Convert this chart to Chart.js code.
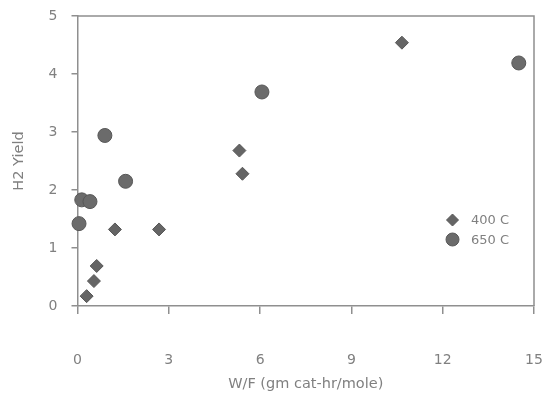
<!DOCTYPE html>
<html>
<head>
<meta charset="utf-8">
<script src="https://cdn.jsdelivr.net/npm/chart.js@4"></script>
<style>
  html, body { margin: 0; padding: 0; background: #fff; }
  #wrap { position: relative; width: 542px; height: 393px; }
</style>
</head>
<body>
<div id="wrap"><canvas id="c"></canvas></div>
<script>
// W/F (gm cat-hr/mole) vs H2 yield
const wf400 = [0.30, 0.54, 0.63, 1.23, 2.68, 5.32, 5.42, 10.66];
const h2400 = [0.17, 0.43, 0.69, 1.32, 1.32, 2.68, 2.28, 4.54];
const wf650 = [0.05, 0.14, 0.41, 0.90, 1.58, 6.06, 14.5];
const h2650 = [1.42, 1.83, 1.80, 2.94, 2.15, 3.69, 4.19];
const seriesNames = ['400 C', '650 C'];

const axisCol = '#8f8f8f';
const textCol = '#808080';
const font = 'DejaVu Sans';

const pts = (xs, ys) => xs.map((x, i) => ({ x, y: ys[i] }));

// box round the plot + legend inside it, like the Excel original
const frame = {
  id: 'frame',
  afterDatasetsDraw(chart) {
    const { ctx, chartArea: a } = chart;
    ctx.save();
    ctx.strokeStyle = axisCol;
    ctx.lineWidth = 1.5;
    ctx.beginPath();
    ctx.moveTo(a.left, a.top);
    ctx.lineTo(a.right, a.top);
    ctx.lineTo(a.right, a.bottom);
    ctx.stroke();

    chart.data.datasets.forEach((ds, i) => {
      const x = 452.5, y = 220 + i * 19.5;
      ctx.fillStyle = ds.backgroundColor;
      ctx.strokeStyle = ds.borderColor;
      ctx.lineWidth = 1;
      Chart.helpers.drawPoint(ctx, { pointStyle: ds.pointStyle, radius: ds.pointRadius - 0.5, borderWidth: 1 }, x, y);
      ctx.fillStyle = textCol;
      ctx.font = '13px "' + font + '"';
      ctx.textBaseline = 'middle';
      ctx.fillText(ds.label, 471, y + 1);
    });
    ctx.restore();
  }
};

new Chart(document.getElementById('c'), {
  type: 'scatter',
  data: {
    datasets: [
      {
        label: seriesNames[0],
        data: pts(wf400, h2400),
        pointStyle: 'rectRot',
        pointRadius: 6.5,
        backgroundColor: '#656565',
        borderColor: '#575757',
        borderWidth: 1,
        clip: false
      },
      {
        label: seriesNames[1],
        data: pts(wf650, h2650),
        pointStyle: 'circle',
        pointRadius: 7,
        backgroundColor: '#6b6b6b',
        borderColor: '#575757',
        borderWidth: 1,
        clip: false
      }
    ]
  },
  options: {
    responsive: true,
    maintainAspectRatio: false,
    animation: false,
    layout: { padding: { top: 16, right: 8, left: 0, bottom: 0 } },
    plugins: { legend: { display: false }, tooltip: { enabled: false } },
    scales: {
      x: {
        type: 'linear',
        min: 0, max: 15,
        ticks: { stepSize: 3, padding: 38, color: textCol, font: { family: font, size: 14 } },
        grid: { drawOnChartArea: false, tickLength: 8, color: axisCol, lineWidth: 1.5 },
        border: { color: axisCol, width: 1.5 },
        title: { display: true, text: 'W/F (gm cat-hr/mole)', color: textCol, font: { family: font, size: 14.5 }, padding: { top: 0, bottom: 0 } },
        afterFit: s => { s.height = 87; s.paddingLeft = 0; s.paddingRight = 0; }
      },
      y: {
        min: 0, max: 5,
        ticks: { stepSize: 1, padding: 14, color: textCol, font: { family: font, size: 14 } },
        grid: { drawOnChartArea: false, tickLength: 6, color: axisCol, lineWidth: 1.5 },
        border: { color: axisCol, width: 1.5 },
        title: { display: true, text: 'H2 Yield', color: textCol, font: { family: font, size: 14.5 }, padding: { top: 11, bottom: 0 } },
        afterFit: s => { s.width = 77.5; s.paddingTop = 0; s.paddingBottom = 0; }
      }
    }
  },
  plugins: [frame]
});
</script>
</body>
</html>
